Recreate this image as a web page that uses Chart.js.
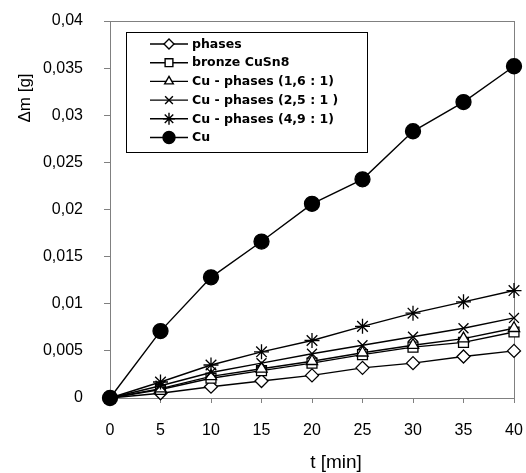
<!DOCTYPE html>
<html>
<head>
<meta charset="utf-8">
<script src="https://cdn.jsdelivr.net/npm/chart.js@4/dist/chart.umd.min.js"></script>
<style>
  body { margin: 0; background: #fff; }
  #wrap { width: 526px; height: 473px; }
</style>
</head>
<body>
<div id="wrap"><canvas id="chart" width="526" height="473"></canvas></div>
<script>
// time points [min]
const times = [0, 5, 10, 15, 20, 25, 30, 35, 40];
const yTickLabels = ['0', '0,005', '0,01', '0,015', '0,02', '0,025', '0,03', '0,035', '0,04'];
const seriesNames = ['phases', 'bronze CuSn8', 'Cu - phases (1,6 : 1)', 'Cu - phases (2,5 : 1 )', 'Cu - phases (4,9 : 1)', 'Cu'];

// mass change [g]
const phases   = [0, 0.0005, 0.0012, 0.0018, 0.0024, 0.0032, 0.0037, 0.0044, 0.0050];
const bronze   = [0, 0.0009, 0.0021, 0.0029, 0.0037, 0.0046, 0.0054, 0.0059, 0.0070];
const cuPh16   = [0, 0.0010, 0.0023, 0.0031, 0.0039, 0.0048, 0.0056, 0.0063, 0.0074];
const cuPh25   = [0, 0.0013, 0.0027, 0.0037, 0.0047, 0.0056, 0.0065, 0.0074, 0.0085];
const cuPh49   = [0, 0.0017, 0.0035, 0.0049, 0.0061, 0.0076, 0.0090, 0.0102, 0.0114];
const cu       = [0, 0.0071, 0.0128, 0.0166, 0.0206, 0.0232, 0.0283, 0.0314, 0.0352];

const allSeries = [phases, bronze, cuPh16, cuPh25, cuPh49, cu];
const markers = [
  { style: 'rectRot', r: 6.5, fill: '#fff' },
  { style: 'rect', r: 7, fill: '#fff' },
  { style: 'triangle', r: 6.5, fill: '#fff' },
  { style: 'crossRot', r: 7, fill: '#fff' },
  { style: 'star', r: 7.5, fill: '#fff' },
  { style: 'circle', r: 7.5, fill: '#000' }
];

// later series drawn on top (Cu last), like the original
const datasets = allSeries.map((vals, i) => ({
  label: seriesNames[i],
  data: vals.map((v, k) => ({ x: times[k], y: v })),
  order: allSeries.length - i,
  borderColor: '#000',
  borderWidth: 1.4,
  pointStyle: markers[i].style,
  pointRadius: markers[i].r,
  pointBackgroundColor: markers[i].fill,
  pointBorderColor: '#000',
  pointBorderWidth: 1.3,
  clip: false,
  tension: 0
}));

// frame, axis titles and the boxed legend
const extras = {
  id: 'extras',
  beforeDatasetsDraw(chart) {
    const { ctx, chartArea: a } = chart;
    ctx.save();
    ctx.strokeStyle = '#808080';
    ctx.lineWidth = 1;
    ctx.strokeRect(Math.round(a.left) + 0.5, Math.round(a.top) + 0.5,
      Math.round(a.right - a.left), Math.round(a.bottom - a.top));
    ctx.restore();
  },
  afterDraw(chart) {
    const ctx = chart.ctx;
    ctx.save();
    ctx.fillStyle = '#000';
    ctx.textAlign = 'center';
    ctx.textBaseline = 'middle';
    ctx.font = '19px "Liberation Sans", Arial, sans-serif';
    ctx.fillText('t [min]', 336, 463);
    ctx.font = '17px "Liberation Sans", Arial, sans-serif';
    ctx.translate(25, 98);
    ctx.rotate(-Math.PI / 2);
    ctx.fillText('\u0394m [g]', 0, 0);
    ctx.restore();

    // legend
    ctx.save();
    ctx.fillStyle = '#fff';
    ctx.fillRect(126, 32, 241, 120);
    ctx.strokeStyle = '#000';
    ctx.lineWidth = 1;
    ctx.strokeRect(126.5, 32.5, 241, 120);
    ctx.font = 'bold 12.5px "DejaVu Sans", Verdana, sans-serif';
    ctx.textBaseline = 'middle';
    ctx.textAlign = 'left';
    seriesNames.forEach((name, i) => {
      const y = 44 + i * 18.7;
      ctx.strokeStyle = '#000';
      ctx.lineWidth = 1.4;
      ctx.beginPath();
      ctx.moveTo(150, y);
      ctx.lineTo(188, y);
      ctx.stroke();
      ctx.fillStyle = markers[i].fill;
      Chart.helpers.drawPoint(ctx, {
        pointStyle: markers[i].style,
        radius: markers[i].r - 1.5,
        rotation: 0,
        borderWidth: 1.3
      }, 169, y);
      ctx.fillStyle = '#000';
      ctx.fillText(name, 192, y + 0.5);
    });
    ctx.restore();
  }
};

new Chart(document.getElementById('chart'), {
  type: 'line',
  data: { datasets },
  options: {
    responsive: false,
    animation: false,
    layout: { padding: { top: 21, right: 12, left: 0, bottom: 0 } },
    plugins: { legend: { display: false }, tooltip: { enabled: false } },
    scales: {
      x: {
        type: 'linear',
        min: 0,
        max: 40,
        afterFit: s => { s.height = 75; s.paddingLeft = 0; s.paddingRight = 0; },
        ticks: {
          stepSize: 5,
          color: '#000',
          padding: 18,
          font: { family: '"Liberation Sans", Arial, sans-serif', size: 16 },
          callback: v => String(v)
        },
        grid: { drawOnChartArea: false, tickLength: 5, color: '#808080' },
        border: { color: '#808080' }
      },
      y: {
        min: 0,
        max: 0.04,
        afterFit: s => { s.width = 110; s.paddingTop = 0; s.paddingBottom = 0; },
        ticks: {
          stepSize: 0.005,
          color: '#000',
          padding: 21,
          font: { family: '"Liberation Sans", Arial, sans-serif', size: 16 },
          callback: (v, i) => yTickLabels[i]
        },
        grid: { drawOnChartArea: false, tickLength: 6, color: '#808080' },
        border: { color: '#808080' }
      }
    }
  },
  plugins: [extras]
});
</script>
</body>
</html>
